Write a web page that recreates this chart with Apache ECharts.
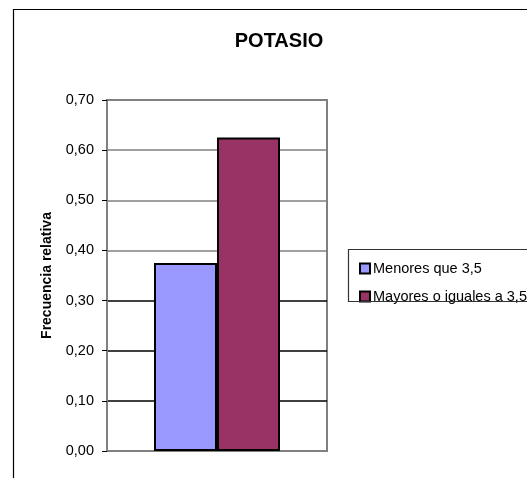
<!DOCTYPE html>
<html>
<head>
<meta charset="utf-8">
<script src="https://cdn.jsdelivr.net/npm/echarts@6/dist/echarts.min.js"></script>
<style>
html,body{margin:0;padding:0;background:#fff;}
#chart{width:527px;height:478px;}
</style>
</head>
<body>
<div id="chart"></div>
<script>
const titleText = 'POTASIO';
const categories = [''];
const seriesNames = ['Menores que 3,5', 'Mayores o iguales a 3,5'];
const seriesValues = [[0.375], [0.625]];
const seriesColors = ['#9999FF', '#993366'];
const yAxisName = 'Frecuencia relativa';
const yMin = 0, yMax = 0.7, yInterval = 0.1;

const chart = echarts.init(document.getElementById('chart'), null, {renderer: 'canvas'});
const font = 'Liberation Sans, Arial, sans-serif';

const option = {
  animation: false,
  backgroundColor: '#fff',
  title: {
    text: titleText,
    left: 274, top: 26,
    textAlign: 'center',
    textStyle: {fontFamily: font, fontSize: 20, fontWeight: 'bold', color: '#000'}
  },
  grid: {
    left: 107, top: 100, right: 200, bottom: 27,
    show: true, borderColor: '#808080', borderWidth: 2, backgroundColor: 'transparent'
  },
  legend: {
    orient: 'vertical',
    left: 354, top: 256,
    itemWidth: 10, itemHeight: 10, itemGap: 13,
    icon: 'rect',
    data: seriesNames,
    textStyle: {fontFamily: font, fontSize: 14.5, color: '#000', lineHeight: 14, padding: [0,0,0,-2]}
  },
  xAxis: {
    type: 'category',
    data: categories,
    axisLine: {show: true, lineStyle: {color: '#808080', width: 2}},
    axisTick: {show: false},
    axisLabel: {show: false},
    splitLine: {show: false}
  },
  yAxis: {
    type: 'value',
    min: yMin, max: yMax, interval: yInterval,
    name: yAxisName,
    nameLocation: 'middle',
    nameRotate: 90,
    nameGap: 53,
    nameTextStyle: {fontFamily: font, fontSize: 14, fontWeight: 'bold', color: '#000'},
    axisLine: {show: true, lineStyle: {color: '#808080', width: 2}},
    axisTick: {show: true, inside: false, length: 5, lineStyle: {color: '#000', width: 1}},
    axisLabel: {
      margin: 13,
      fontFamily: font, fontSize: 14.5, color: '#000',
      formatter: v => v.toFixed(2).replace('.', ',')
    },
    splitLine: {show: true, lineStyle: {color: ['#000','#000','#000','#000','#808080','#808080','#808080','#808080'], width: 1.5}}
  },
  graphic: [
    {type: 'rect', shape: {x: 13.5, y: 9.5, width: 700, height: 700}, style: {fill: 'none', stroke: '#000', lineWidth: 1.2}, z: 100, silent: true},
    {type: 'rect', shape: {x: 348.5, y: 249.5, width: 300, height: 52}, style: {fill: 'none', stroke: '#333', lineWidth: 1.2}, z: 100, silent: true}
  ],
  series: seriesNames.map((name, i) => ({
    name: name,
    type: 'bar',
    data: seriesValues[i],
    barWidth: 63,
    barGap: '0%',
    itemStyle: {color: seriesColors[i], borderColor: '#000', borderWidth: 2}
  }))
};
chart.setOption(option);
</script>
</body>
</html>
